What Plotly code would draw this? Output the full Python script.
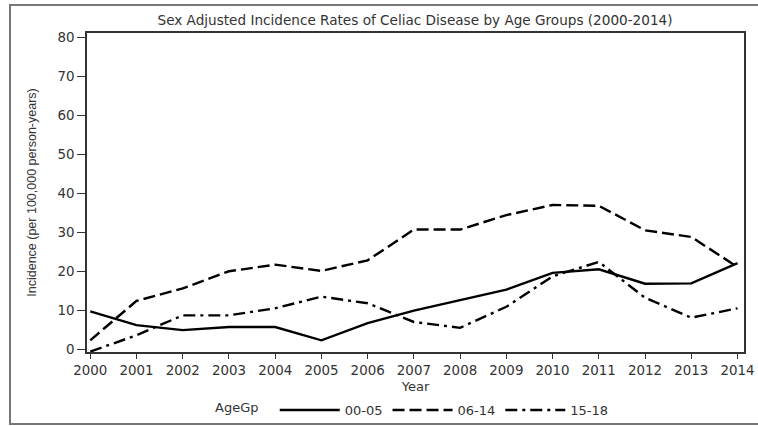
import plotly.graph_objects as go

years = list(range(2000, 2015))
age_00_05 = [9.8, 6.3, 5.0, 5.8, 5.8, 2.4, 6.8, 10.0, 12.7, 15.4, 19.7, 20.6, 16.9, 17.0, 22.2]
age_06_14 = [2.4, 12.5, 15.7, 20.1, 21.8, 20.2, 22.9, 30.8, 30.8, 34.5, 37.1, 36.9, 30.6, 28.9, 21.2]
age_15_18 = [-0.5, 3.7, 8.8, 8.8, 10.6, 13.6, 11.9, 7.1, 5.6, 11.0, 18.8, 22.5, 13.3, 8.2, 10.6]
series_names = ["00-05", "06-14", "15-18"]
y_ticks = [0, 10, 20, 30, 40, 50, 60, 70, 80]

W, H = 758, 426
ML, MR, MT, MB = 87, 14, 33, 74
pw, ph = W - ML - MR, H - MT - MB

dashes = ["solid", "12px,5px", "12px,5px,3px,5px"]
fig = go.Figure()
for name, vals, d in zip(series_names, [age_00_05, age_06_14, age_15_18], dashes):
    fig.add_trace(go.Scatter(x=years, y=vals, mode="lines", name=name,
                             line=dict(color="black", width=2.4, dash=d)))

font = "DejaVu Sans, Verdana, sans-serif"
def px_x(p):
    return (p - ML) / pw
def px_y(p):
    return (H - MB - p) / ph

fig.update_layout(
    width=W, height=H,
    margin=dict(l=ML, r=MR, t=MT, b=MB, autoexpand=False),
    paper_bgcolor="white", plot_bgcolor="white",
    font=dict(family=font, size=13, color="#333"),
    title=dict(text="Sex Adjusted Incidence Rates of Celiac Disease by Age Groups (2000-2014)",
               x=px_x(415), xref="paper", xanchor="center", y=1 - 20 / H, yanchor="middle",
               font=dict(size=13.6, color="#333")),
    xaxis=dict(range=[1999.93, 2014.14], tickmode="array", tickvals=years,
               ticks="outside", ticklen=5, tickcolor="#333", showgrid=False, zeroline=False,
               showline=True, linecolor="#333", linewidth=1.5, mirror=True,
               tickfont=dict(size=13.4),
               title=dict(text="Year", standoff=5, font=dict(size=13))),
    yaxis=dict(range=[-0.6, 81.2], tickmode="array", tickvals=y_ticks,
               ticks="outside", ticklen=8, tickcolor="#333", showgrid=False, zeroline=False,
               showline=True, linecolor="#333", linewidth=1.5, mirror=True,
               tickfont=dict(size=13.4),
               title=dict(text="Incidence (per 100,000 person-years)", standoff=18,
                          font=dict(size=12.5, family="Liberation Sans Narrow, Liberation Sans, Arial, sans-serif"))),
    legend=dict(orientation="h", x=px_x(213), xanchor="left", y=px_y(410), yanchor="middle",
                title=dict(text="AgeGp  ", side="left", font=dict(size=13)),
                font=dict(size=13), itemwidth=60, bgcolor="rgba(0,0,0,0)"),
    shapes=[dict(type="rect", xref="paper", yref="paper",
                 x0=px_x(10), x1=px_x(770), y0=px_y(424), y1=px_y(5),
                 line=dict(color="#777", width=2), fillcolor="rgba(0,0,0,0)", layer="below")],
)

fig.write_html("out.html", config={"displayModeBar": False},
               post_script="document.body.style.margin='0';document.body.style.overflow='hidden';")
